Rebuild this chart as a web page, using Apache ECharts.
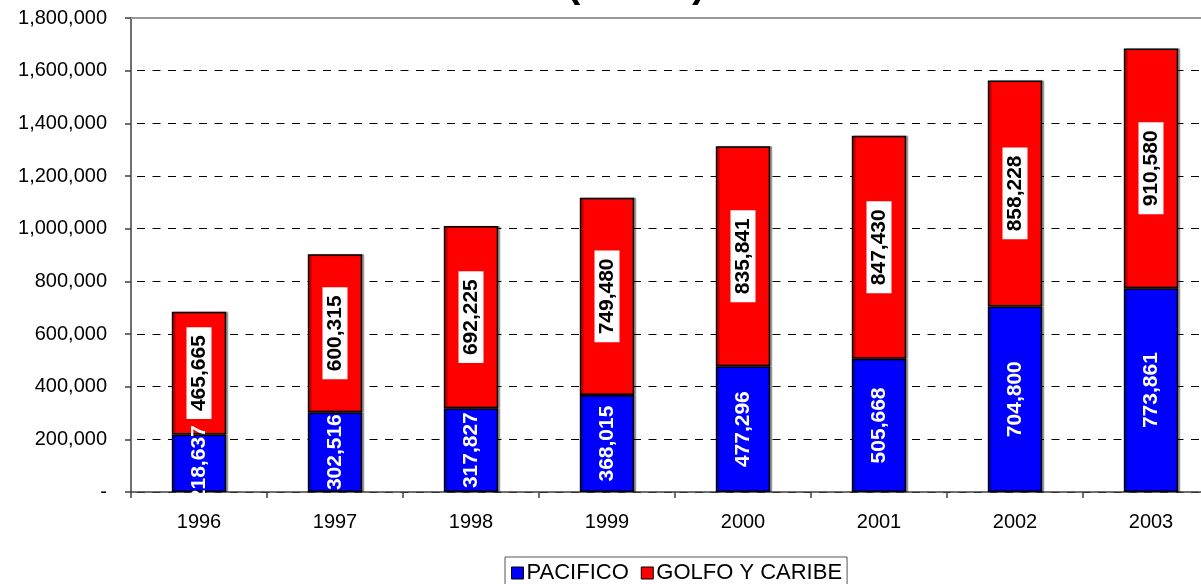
<!DOCTYPE html>
<html>
<head>
<meta charset="utf-8">
<script src="https://cdn.jsdelivr.net/npm/echarts@6/dist/echarts.min.js"></script>
<style>html,body{margin:0;padding:0;background:#fff}#c{width:1201px;height:584px}</style>
</head>
<body>
<div id="c"></div>
<script>
const years = ['1996','1997','1998','1999','2000','2001','2002','2003'];
const pacifico = [218637, 302516, 317827, 368015, 477296, 505668, 704800, 773861];
const golfo = [465665, 600315, 692225, 749480, 835841, 847430, 858228, 910580];
const yTicks = [0, 200000, 400000, 600000, 800000, 1000000, 1200000, 1400000, 1600000, 1800000];

const fmt = v => v === 0 ? '-' : v.toLocaleString('en-US');
const FONT = '"Liberation Sans", Arial, sans-serif';

const chart = echarts.init(document.getElementById('c'));
chart.setOption({
  animation: false,
  textStyle: { fontFamily: FONT },
  title: {
    text: "(TEU's)",
    left: 562,
    top: -39,
    textStyle: { fontSize: 40, fontWeight: 'bold', color: '#000', fontFamily: FONT, lineHeight: 40 }
  },
  grid: { left: 131, width: 1088, top: 18, height: 474, containLabel: false, outerBoundsMode: 'none' },
  legend: {
    top: 557,
    left: 505,
    orient: 'horizontal',
    itemWidth: 12,
    itemHeight: 12,
    itemGap: 12,
    padding: [5, 5, 5, 6],
    borderColor: '#555',
    borderWidth: 1,
    icon: 'rect',
    textStyle: { fontSize: 22, color: '#000', fontFamily: FONT, padding: [0, 0, 0, -2] },
    data: [
      { name: 'PACIFICO', itemStyle: { color: '#0000FF', borderColor: '#000', borderWidth: 1 } },
      { name: 'GOLFO Y CARIBE', itemStyle: { color: '#FF0000', borderColor: '#000', borderWidth: 1 } }
    ]
  },
  xAxis: [{
    type: 'category',
    data: years,
    axisLine: { lineStyle: { color: '#404040', width: 1.5 } },
    axisTick: { show: true, alignWithLabel: false, length: 6, lineStyle: { color: '#404040', width: 1.5 } },
    axisLabel: { color: '#000', fontSize: 20, margin: 20, fontFamily: FONT }
  }, {
    type: 'category',
    data: years,
    position: 'top',
    axisLine: { show: true, lineStyle: { color: '#999', width: 2 } },
    axisTick: { show: false },
    axisLabel: { show: false }
  }],
  yAxis: {
    type: 'value',
    min: 0,
    max: 1800000,
    interval: 200000,
    axisLine: { show: true, lineStyle: { color: '#404040', width: 1.5 } },
    axisTick: { show: true, length: 6, lineStyle: { color: '#404040', width: 1.5 } },
    axisLabel: {
      color: '#000', fontSize: 20, margin: 24, fontFamily: FONT,
      formatter: v => yTicks.includes(v) ? fmt(v) : ''
    },
    splitLine: { show: true, lineStyle: { color: '#000', type: [8, 7.5], dashOffset: -6, width: 1 } }
  },
  series: [
    {
      name: 'PACIFICO',
      type: 'bar',
      stack: 'total',
      data: pacifico,
      barWidth: '40%',
      itemStyle: { color: '#0000FF', borderColor: '#000', borderWidth: 1.5, shadowColor: 'rgba(0,0,0,0.35)', shadowOffsetX: 2, shadowOffsetY: 0, shadowBlur: 1 },
      label: {
        show: true,
        position: 'inside',
        rotate: 90,
        formatter: p => fmt(p.value),
        color: '#fff',
        fontSize: 21,
        fontWeight: 'bold',
        fontFamily: FONT
      }
    },
    {
      name: 'GOLFO Y CARIBE',
      type: 'bar',
      stack: 'total',
      data: golfo,
      barWidth: '40%',
      itemStyle: { color: '#FF0000', borderColor: '#000', borderWidth: 1.5, shadowColor: 'rgba(0,0,0,0.35)', shadowOffsetX: 2, shadowOffsetY: 0, shadowBlur: 1 },
      label: {
        show: true,
        position: 'inside',
        rotate: 90,
        formatter: p => fmt(p.value),
        color: '#000',
        backgroundColor: '#fff',
        padding: [3, 8, 1, 8],
        fontSize: 21,
        fontWeight: 'bold',
        fontFamily: FONT
      }
    }
  ]
});
</script>
</body>
</html>
